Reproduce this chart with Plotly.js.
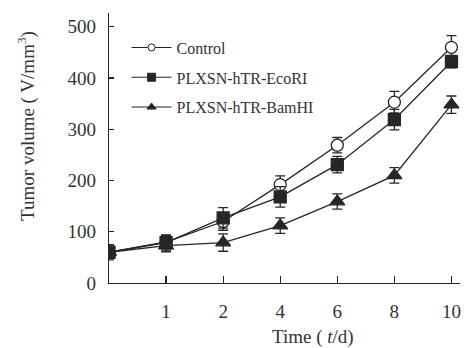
<!DOCTYPE html>
<html>
<head>
<meta charset="utf-8">
<script src="https://cdn.plot.ly/plotly-3.0.1.min.js"></script>
<style>html,body{margin:0;padding:0;background:#fff;}#chart{width:467px;height:348px;}</style>
</head>
<body>
<div id="chart"></div>
<script>
const days = [0, 1, 2, 4, 6, 8, 10];
const seriesNames = ["Control", "PLXSN-hTR-EcoRI", "PLXSN-hTR-BamHI"];
const control = [60, 80, 120, 192, 269, 353, 460];
const controlErr = [15, 13, 17, 17, 15, 21, 23];
const ecori = [60, 79, 127, 168, 231, 319, 432];
const ecoriErr = [12, 15, 20, 20, 16, 20, 12];
const bamhi = [60, 73, 79, 112, 159, 210, 348];
const bamhiErr = [10, 12, 17, 15, 15, 15, 17];

const pos = days.map((d, i) => i);
const tickPos = pos.slice(1);
const tickText = days.slice(1).map(String);

const ink = "#262626";
const symbols = ["circle", "square", "triangle-up"];
const fills = ["#ffffff", ink, ink];
const sizes = [12, 12, 13];
const values = [control, ecori, bamhi];
const errs = [controlErr, ecoriErr, bamhiErr];

const traces = [];
values.forEach((v, k) => {
  traces.push({
    x: pos, y: v, type: "scatter", mode: "lines+markers", showlegend: false,
    line: {color: ink, width: 1.3},
    marker: {symbol: symbols[k], size: sizes[k], color: fills[k], line: {color: ink, width: 1.3}},
    error_y: {type: "data", array: errs[k], visible: true, color: ink, thickness: 1.3, width: 5}
  });
});
values.forEach((v, k) => {
  traces.push({
    x: [null], y: [null], type: "scatter", mode: "lines+markers", name: seriesNames[k],
    legendgroup: "g" + k,
    line: {color: ink, width: 1.1},
    marker: {symbol: symbols[k], size: k === 0 ? 7 : 8, color: fills[k], line: {color: ink, width: 1}}
  });
});

const font = "'Liberation Serif', 'Times New Roman', serif";
const layout = {
  width: 467, height: 348,
  margin: {l: 109, r: 7, t: 13, b: 65},
  paper_bgcolor: "#fff", plot_bgcolor: "#fff",
  font: {family: font, color: "#333", size: 19},
  xaxis: {
    range: [0, 6.15], tickvals: tickPos, ticktext: tickText,
    showgrid: false, zeroline: false, showline: true, linecolor: ink, linewidth: 1.3,
    ticks: "inside", ticklen: 7, tickcolor: ink, tickwidth: 1.2,
    ticklabelstandoff: 11, tickfont: {size: 19, family: font, color: "#333"}
  },
  yaxis: {
    range: [0, 527], tickvals: [0, 100, 200, 300, 400, 500],
    showgrid: false, zeroline: false, showline: true, linecolor: ink, linewidth: 1.3,
    ticks: "inside", ticklen: 5, tickcolor: ink, tickwidth: 1.2,
    ticklabelstandoff: 8, tickfont: {size: 19, family: font, color: "#333"}
  },
  showlegend: true,
  legend: {
    x: 0.05, y: 0.935, xanchor: "left", yanchor: "top",
    bgcolor: "rgba(0,0,0,0)", borderwidth: 0,
    font: {size: 16, family: font, color: "#333"},
    itemwidth: 40, traceorder: "grouped", tracegroupgap: 6
  },
  annotations: [
    {text: "Tumor volume ( V/mm<sup>3</sup>)", xref: "paper", yref: "paper", x: -0.235, y: 0.58,
     xanchor: "center", yanchor: "middle", textangle: -90, showarrow: false,
     font: {size: 19, family: font, color: "#333"}},
    {text: "Time ( <i>t</i>/d)", xref: "paper", yref: "paper", x: 0.58, y: -0.15,
     xanchor: "center", yanchor: "top", showarrow: false,
     font: {size: 19, family: font, color: "#333"}}
  ]
};

Plotly.newPlot("chart", traces, layout, {displayModeBar: false, staticPlot: true});
</script>
</body>
</html>
